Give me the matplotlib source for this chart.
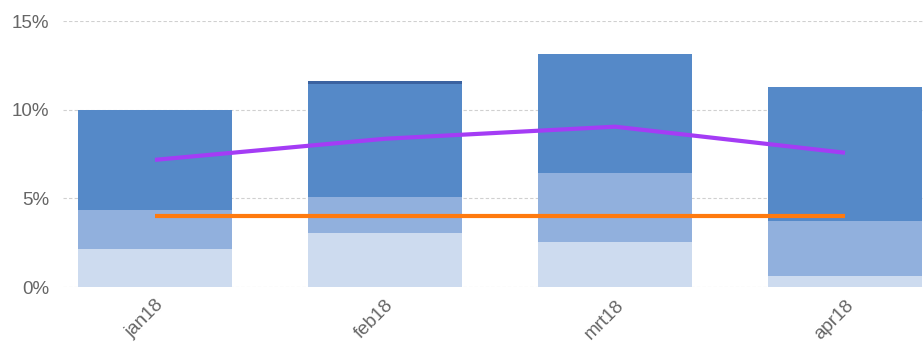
import matplotlib.pyplot as plt
import numpy as np
from matplotlib.ticker import FuncFormatter

# data (percent)
months = ['jan18', 'feb18', 'mrt18', 'apr18']
seg_light = [2.15, 3.05, 2.55, 0.62]
seg_medium = [2.2, 2.05, 3.9, 3.11]
seg_dark = [5.65, 6.35, 6.7, 7.57]
seg_top = [0.0, 0.17, 0.0, 0.0]
line_purple = [7.17, 8.36, 9.04, 7.57]
line_orange = [4.02, 4.02, 4.02, 4.02]

colors = ['#cddbef', '#91b0dd', '#5589c8', '#3b62a0']

plt.rcParams['font.family'] = ['Liberation Sans', 'DejaVu Sans']

fig = plt.figure(figsize=(9.23, 3.45), dpi=100)
ax = fig.add_axes([63 / 923, 1 - 287 / 345, 1 - 63 / 923, (287 - 21) / 345])

x = np.arange(len(months))
bottom = np.zeros(len(months))
for seg, c in zip([seg_light, seg_medium, seg_dark, seg_top], colors):
    ax.bar(x, seg, bottom=bottom, width=0.67, color=c, zorder=2)
    bottom += np.array(seg)

ax.plot(x, line_purple, color='#a43cf5', lw=3, zorder=3, solid_capstyle='butt')
ax.plot(x, line_orange, color='#ff7a0e', lw=3, zorder=3, solid_capstyle='butt')

ax.set_xlim(-0.4, 3.339)
ax.set_ylim(0, 15)
ax.set_yticks([0, 5, 10, 15])
ax.yaxis.set_major_formatter(FuncFormatter(lambda v, p: f'{v:.0f}%'))
ax.grid(axis='y', color='#d0d0d0', linestyle=(0, (3, 2)), lw=0.8, zorder=0)
ax.set_xticks(x)
ax.set_xticklabels(months, rotation=45, ha='right', rotation_mode='anchor')
ax.tick_params(length=0, colors='#666666', labelsize=13.5)
ax.tick_params(axis='y', pad=10)
ax.tick_params(axis='x', pad=7)
for s in ax.spines.values():
    s.set_visible(False)

fig.savefig('out.png', dpi=100)
